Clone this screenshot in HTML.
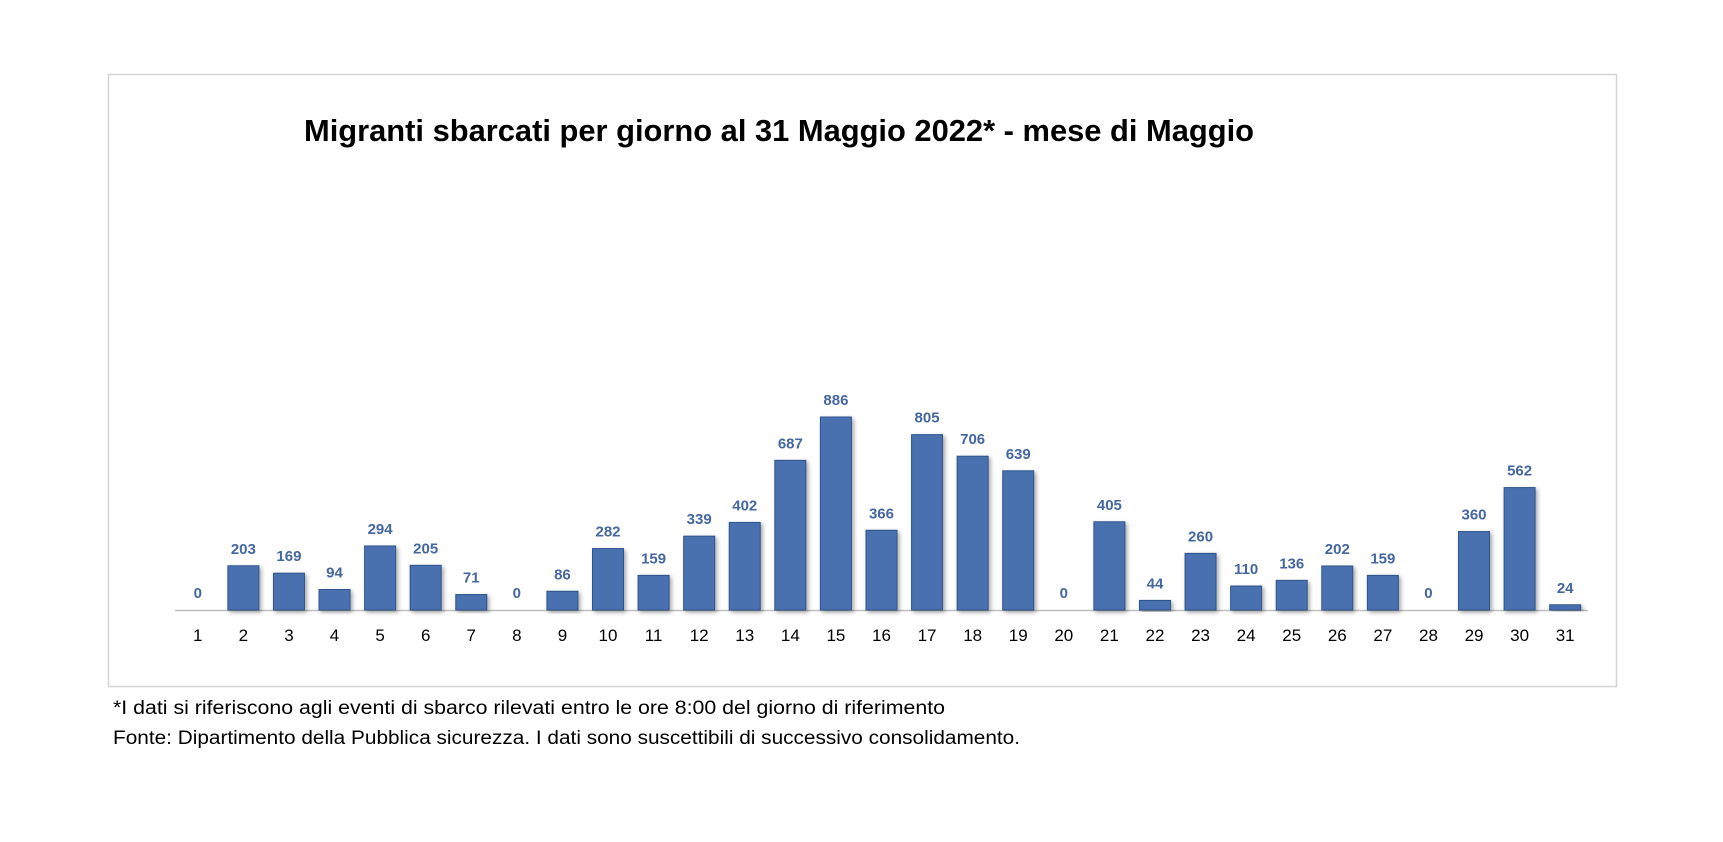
<!DOCTYPE html>
<html><head><meta charset="utf-8"><style>
body{margin:0;background:#fff;width:1723px;height:837px;overflow:hidden;font-family:"Liberation Sans",sans-serif}
</style></head><body>
<svg id="s" width="1723" height="837" xmlns="http://www.w3.org/2000/svg">
<defs><filter id="sh" x="-30%" y="-10%" width="160%" height="130%"><feDropShadow dx="2" dy="2" stdDeviation="2" flood-color="#000" flood-opacity="0.35"/></filter></defs>
<rect x="108.5" y="74.5" width="1508" height="612" fill="#fff" stroke="#d4d4d4" stroke-width="1.5"/>
<text x="304" y="141" font-size="31" font-weight="bold" fill="#000" textLength="950" lengthAdjust="spacingAndGlyphs">Migranti sbarcati per giorno al 31 Maggio 2022* - mese di Maggio</text>
<line x1="175" y1="610.5" x2="1588" y2="610.5" stroke="#bfbfbf" stroke-width="1.5"/>
<g id="g"></g>
<text x="113" y="714" font-size="19" fill="#000" textLength="832" lengthAdjust="spacingAndGlyphs">*I dati si riferiscono agli eventi di sbarco rilevati entro le ore 8:00 del giorno di riferimento</text>
<text x="113" y="744" font-size="19" fill="#000" textLength="907" lengthAdjust="spacingAndGlyphs">Fonte: Dipartimento della Pubblica sicurezza. I dati sono suscettibili di successivo consolidamento.</text>
</svg>
<script>
var d=[0,203,169,94,294,205,71,0,86,282,159,339,402,687,886,366,805,706,639,0,405,44,260,110,136,202,159,0,360,562,24];
var g=document.getElementById('g'),h='',k=193/886;
for(var i=0;i<31;i++){var c=175+45.58*(i+0.5),v=d[i],bh=v*k,t=610-bh;
if(v>0)h+='<rect x="'+(c-15.5)+'" y="'+t+'" width="31" height="'+bh+'" fill="#4a71b0" stroke="#2f528a" stroke-width="1" filter="url(#sh)"/>';
h+='<text x="'+c+'" y="'+(t-12)+'" font-size="15" font-weight="bold" fill="#44679f" text-anchor="middle">'+v+'</text>';
h+='<text x="'+c+'" y="641" font-size="17" fill="#000" text-anchor="middle">'+(i+1)+'</text>';}
g.innerHTML=h;
</script>
</body></html>
